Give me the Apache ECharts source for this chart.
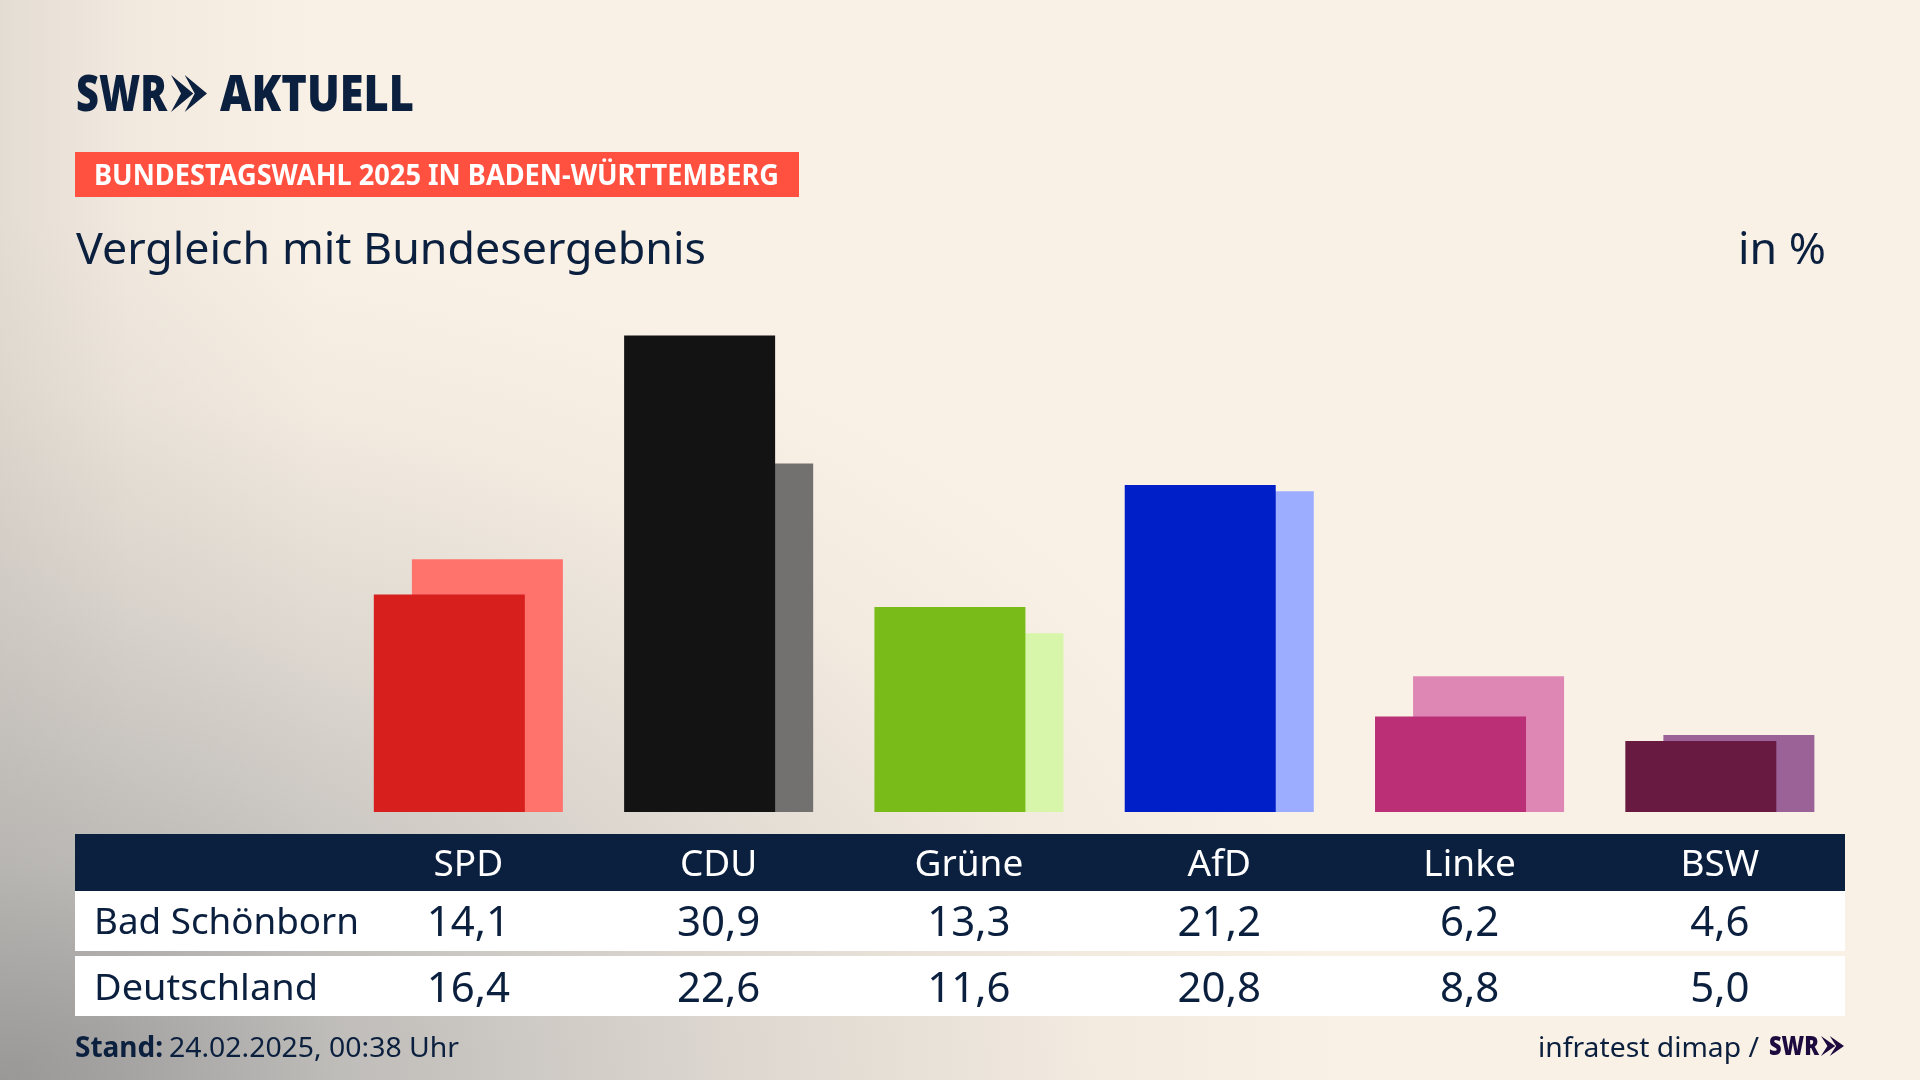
<!DOCTYPE html>
<html><head><meta charset="utf-8">
<style>
html,body{margin:0;padding:0;width:1920px;height:1080px;overflow:hidden;
background:
 linear-gradient(to right,rgba(165,162,158,.26) 0,rgba(165,162,158,.10) 130px,rgba(165,162,158,0) 320px),
 radial-gradient(ellipse 1350px 860px at 0px 1080px,rgba(135,136,138,.88) 0%,rgba(160,161,162,.66) 25%,rgba(178,177,175,.40) 55%,rgba(195,190,183,.15) 80%,rgba(215,205,190,0) 100%),
 #faf1e6;}
#c{width:1920px;height:1080px}
</style>
<script src="https://cdn.jsdelivr.net/npm/echarts@6/dist/echarts.min.js"></script>
</head><body><div id="c"></div>
<script>
const parties = ['SPD','CDU','Grüne','AfD','Linke','BSW'];
const localName = 'Bad Schönborn';
const nationalName = 'Deutschland';
const localValues = [14.1,30.9,13.3,21.2,6.2,4.6];
const nationalValues = [16.4,22.6,11.6,20.8,8.8,5.0];
const localColors = ['#d71f1e','#131313','#79bc1a','#001fc8','#ba2f75','#681a41'];
const nationalColors = ['#ff736c','#72716f','#d8f6aa','#9cacff','#de87b5','#9b6297'];

const INK = '#0b1f3e', FONT = '"Noto Sans"';
const fmt = v => v.toFixed(1).replace('.', ',');
const mc = document.createElement('canvas').getContext('2d');
function fitText(text, x, baseline, width, size, weight, fill, z) {
  const font = `${weight} ${size}px ${FONT}`;
  mc.font = font;
  mc.textBaseline = 'alphabetic';
  const w = mc.measureText(text).width;
  mc.textBaseline = 'middle';
  const off = mc.measureText('H').actualBoundingBoxDescent;
  return {type:'text', x, y:baseline - off, scaleX:width/w, z:z||5,
    style:{text, font, fill:fill||INK, verticalAlign:'middle', align:'left'}};
}
function rect(x,y,w,h,fill,z){return {type:'rect',shape:{x,y,width:w,height:h},style:{fill},z:z||1};}
function chevrons(x,y,w,h,fill){
  const cw=w*0.62, step=w-cw, out=[];
  for (const dx of [0,step]) out.push({type:'polygon',z:5,style:{fill},shape:{points:
    [[x+dx,y],[x+dx+cw,y+h/2],[x+dx,y+h],[x+dx+cw*0.45,y+h/2]]}});
  return out;
}
const chart = echarts.init(document.getElementById('c'),null,{renderer:'canvas'});
const labelAxis = (data,margin,size,color) => ({
  type:'category', position:'bottom', data, z:10,
  axisLine:{show:false}, axisTick:{show:false}, splitLine:{show:false},
  axisLabel:{interval:0, margin, fontFamily:FONT, fontSize:size, color, verticalAlign:'middle'}
});
chart.setOption({
  animation:false,
  backgroundColor:'transparent',
  grid:{left:343.2,right:75,top:318.6,bottom:268,containLabel:false},
  xAxis:[
    labelAxis(parties,53,37,'#ffffff'),
    labelAxis(localValues.map(fmt),112,42,INK),
    labelAxis(nationalValues.map(fmt),178,42,INK)
  ],
  yAxis:{type:'value',min:0,max:32,show:false},
  series:[
    {type:'bar',name:localName,z:4,barWidth:151,barGap:'-74.8%',
     data:localValues.map((v,i)=>({value:v,itemStyle:{color:localColors[i]}}))},
    {type:'bar',name:nationalName,z:3,barWidth:151,barGap:'-74.8%',
     data:nationalValues.map((v,i)=>({value:v,itemStyle:{color:nationalColors[i]}}))}
  ],
  graphic:{elements:[
    rect(75,834,1770,57,'#0b1f3e'),
    rect(75,891,1770,60,'#ffffff'),
    rect(75,956,1770,60,'#ffffff'),
    rect(75,152,724,45,'#ff5040'),
    fitText('SWR',76,111,91,50,'900',INK),
    ...chevrons(171,75,36,37,INK),
    fitText('AKTUELL',220,111,194,50,'900',INK),
    fitText('BUNDESTAGSWAHL 2025 IN BADEN-WÜRTTEMBERG',94,185,685,28,'700','#ffffff'),
    fitText('Vergleich mit Bundesergebnis',76,264,630,44,'400',INK),
    fitText('in %',1738,264,88,44,'400',INK),
    fitText(localName,94,934,265,37,'400',INK),
    fitText(nationalName,94,1000,224,37,'400',INK),
    fitText('Stand:',75,1057,88,28,'700',INK),
    fitText('24.02.2025, 00:38 Uhr',169,1057,290,28,'400',INK),
    fitText('infratest dimap /',1538,1057,221,28,'400',INK),
    fitText('SWR',1769,1055,50,27,'900','#1d0b3f'),
    ...chevrons(1821,1036,23,20,'#1d0b3f')
  ]}
});
</script></body></html>
